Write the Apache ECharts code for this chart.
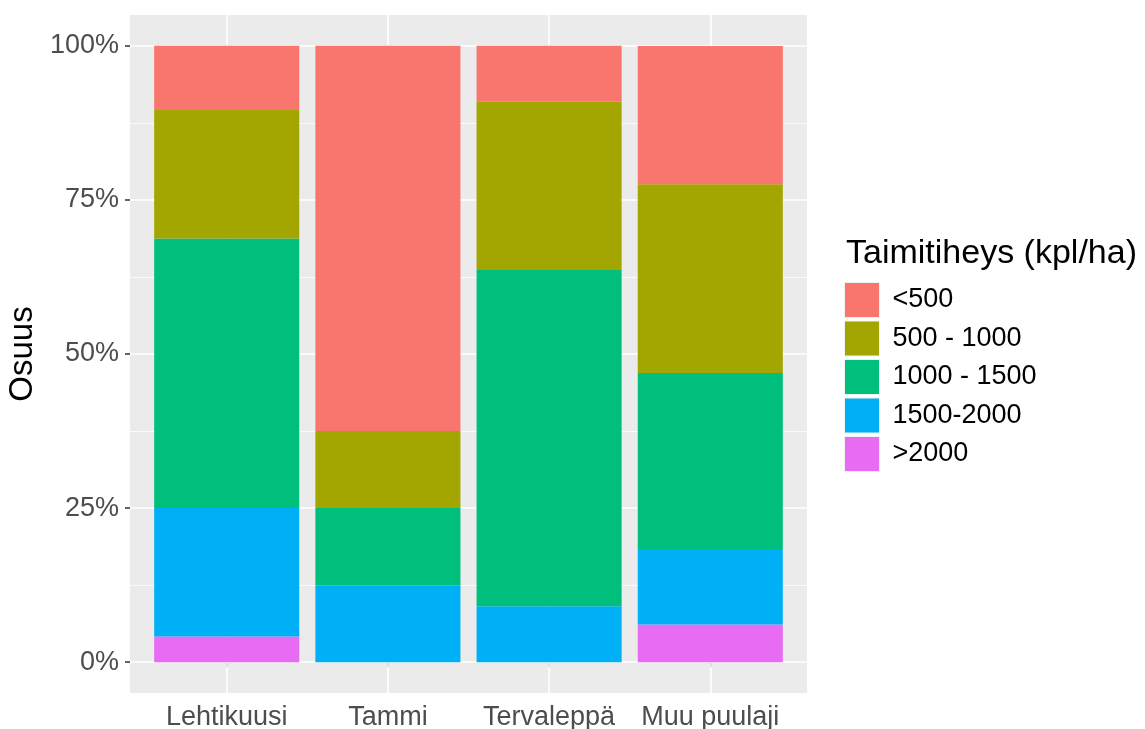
<!DOCTYPE html>
<html>
<head>
<meta charset="utf-8">
<script src="https://cdn.jsdelivr.net/npm/echarts@6/dist/echarts.min.js"></script>
<style>
html,body{margin:0;padding:0;background:#fff;}
#chart{width:1145px;height:729px;}
</style>
</head>
<body>
<div id="chart"></div>
<script>
// ---- data ----
const categories = ["Lehtikuusi", "Tammi", "Tervaleppä", "Muu puulaji"];
const classNames = ["<500", "500 - 1000", "1000 - 1500", "1500-2000", ">2000"]; // legend order
const classColors = ["#F8766D", "#A3A500", "#00BF7D", "#00B0F6", "#E76BF3"];
// shares (%) per class, in category order
const lt500     = [10.42, 62.5, 9.09, 22.45];
const s500_1000 = [20.83, 12.5, 27.27, 30.61];
const s1000_1500= [43.75, 12.5, 54.55, 28.57];
const s1500_2000= [20.83, 12.5, 9.09, 12.24];
const gt2000    = [4.17, 0, 0, 6.12];
const classValues = [lt500, s500_1000, s1000_1500, s1500_2000, gt2000];
const yMajorTicks = [0, 25, 50, 75, 100];
const yMinorTicks = [12.5, 37.5, 62.5, 87.5];
const yTitle = "Osuus";
const legendTitle = "Taimitiheys (kpl/ha)";

const FONT = "'Liberation Sans', Arial, sans-serif";
const xPositions = categories.map((c, i) => i + 1);

// panel geometry (ggplot-like expansion: 0.6 units on discrete axis, 5% on continuous)
const PANEL = { left: 130, right: 338, top: 15, bottom: 36 };
const unitPx = (1145 - PANEL.left - PANEL.right) / 4.2;
const BAR_GRID = { left: PANEL.left + 0.1 * unitPx, right: PANEL.right + 0.1 * unitPx, top: PANEL.top, bottom: PANEL.bottom };

// stack bottom-to-top: reverse legend order
const barSeries = [];
for (let k = classNames.length - 1; k >= 0; k--) {
  barSeries.push({
    name: classNames[k],
    type: 'bar',
    stack: 'total',
    xAxisIndex: 1,
    yAxisIndex: 1,
    barWidth: '90%',
    z: 3,
    itemStyle: { color: classColors[k] },
    emphasis: { disabled: true },
    data: classValues[k]
  });
}

const gridLineSeries = {
  name: '__grid',
  type: 'line',
  xAxisIndex: 0,
  yAxisIndex: 0,
  data: [],
  silent: true,
  z: 1,
  markLine: {
    silent: true,
    symbol: ['none', 'none'],
    label: { show: false },
    z: 1,
    animation: false,
    data: [
      ...yMinorTicks.map(v => ({ yAxis: v, lineStyle: { color: '#ffffff', width: 0.8, type: 'solid' } })),
      ...yMajorTicks.map(v => ({ yAxis: v, lineStyle: { color: '#ffffff', width: 1.6, type: 'solid' } })),
      ...xPositions.map(v => ({ xAxis: v, lineStyle: { color: '#ffffff', width: 1.6, type: 'solid' } }))
    ]
  }
};

const option = {
  animation: false,
  backgroundColor: '#ffffff',
  textStyle: { fontFamily: FONT },
  title: {
    text: legendTitle,
    left: 841,
    top: 232,
    textStyle: { fontFamily: FONT, fontSize: 34, fontWeight: 'normal', color: '#000000' }
  },
  legend: {
    data: classNames,
    orient: 'vertical',
    left: 839,
    top: 277,
    itemWidth: 35,
    itemHeight: 35,
    itemGap: 2.5,
    icon: 'rect',
    selectedMode: false,
    itemStyle: { borderColor: '#f2f2f2', borderWidth: 1 },
    textStyle: { fontFamily: FONT, fontSize: 27, color: '#000000', padding: [0, 0, 0, 8] }
  },
  grid: [
    Object.assign({ show: true, backgroundColor: '#EBEBEB', borderWidth: 0, containLabel: false, outerBoundsMode: 'none' }, PANEL),
    Object.assign({ show: false, borderWidth: 0, containLabel: false, outerBoundsMode: 'none' }, BAR_GRID)
  ],
  xAxis: [{
    type: 'value',
    gridIndex: 0,
    min: 0.4, max: 4.6,
    axisLine: { show: false },
    splitLine: { show: false },
    axisTick: { show: true, length: 5, lineStyle: { color: '#333333', width: 1.5 }, customValues: xPositions },
    axisLabel: {
      customValues: xPositions,
      formatter: v => categories[Math.round(v) - 1] || '',
      fontFamily: FONT, fontSize: 27, color: '#4D4D4D', margin: 11
    }
  }, {
    type: 'category',
    gridIndex: 1,
    data: categories,
    boundaryGap: true,
    show: false
  }],
  yAxis: [{
    type: 'value',
    gridIndex: 0,
    min: -5, max: 105,
    name: yTitle,
    nameLocation: 'middle',
    nameGap: 90,
    nameRotate: 90,
    nameTextStyle: { fontFamily: FONT, fontSize: 33, color: '#000000' },
    axisLine: { show: false },
    splitLine: { show: false },
    axisTick: { show: true, length: 5, lineStyle: { color: '#333333', width: 1.5 }, customValues: yMajorTicks },
    axisLabel: {
      customValues: yMajorTicks,
      formatter: v => v + '%',
      fontFamily: FONT, fontSize: 27, color: '#4D4D4D', margin: 11
    }
  }, {
    type: 'value',
    gridIndex: 1,
    min: -5, max: 105,
    show: false,
    splitLine: { show: false }
  }],
  series: [gridLineSeries, ...barSeries]
};

const chart = echarts.init(document.getElementById('chart'), null, { renderer: 'canvas' });
chart.setOption(option);
</script>
</body>
</html>
